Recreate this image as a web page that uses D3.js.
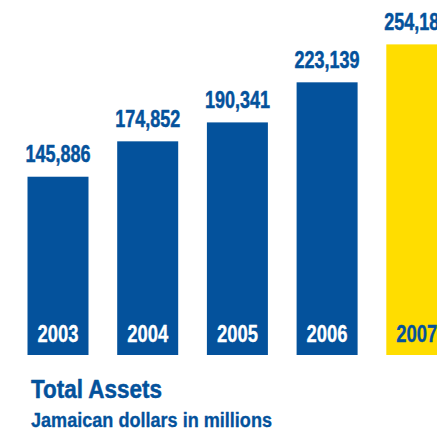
<!DOCTYPE html>
<html>
<head>
<meta charset="utf-8">
<script src="https://cdn.jsdelivr.net/npm/d3@7"></script>
<style>
  html, body { margin: 0; padding: 0; background: #ffffff; }
  svg { display: block; }
  text { font-family: "Liberation Sans", Arial, sans-serif; font-weight: bold; }
</style>
</head>
<body>
<svg id="chart" width="437" height="432"></svg>
<script>
// Total assets by year, Jamaican dollars in millions
const years = ["2003", "2004", "2005", "2006", "2007"];
const totalAssets = [145886, 174852, 190341, 223139, 254180];
const highlightYear = "2007";

const title = "Total Assets";
const subtitle = "Jamaican dollars in millions";

const blue = "#04529c";
const yellow = "#ffdd00";

const baseY = 355;

const svg = d3.select("#chart");

const x = d3.scaleBand()
  .domain(years)
  .range([27.5, 447.3])
  .paddingInner(0.32)
  .paddingOuter(0);

const y = d3.scaleLinear()
  .domain([0, 250000])
  .range([baseY, baseY - 305.5]);

const data = years.map((yr, i) => ({ year: yr, value: totalAssets[i] }));
const fmt = d3.format(",");

// condensed look: squeeze glyphs to a fixed width per character
const condensed = (sel, perChar) => sel
  .attr("textLength", function () { return this.textContent.length * perChar; })
  .attr("lengthAdjust", "spacingAndGlyphs");

// heavier strokes to match a condensed bold face
const heavy = (sel, w) => sel
  .attr("stroke", function () { return d3.select(this).attr("fill"); })
  .attr("stroke-width", w)
  .attr("stroke-linejoin", "round");

const g = svg.append("g");

g.selectAll("rect.bar")
  .data(data)
  .join("rect")
  .attr("class", "bar")
  .attr("x", d => x(d.year))
  .attr("y", d => y(d.value))
  .attr("width", x.bandwidth())
  .attr("height", d => baseY - y(d.value))
  .attr("fill", d => d.year === highlightYear ? yellow : blue);

// value labels above each bar
g.selectAll("text.value")
  .data(data)
  .join("text")
  .attr("class", "value")
  .attr("x", d => x(d.year) + x.bandwidth() / 2)
  .attr("y", d => y(d.value) - 14.5)
  .attr("text-anchor", "middle")
  .attr("font-size", 23)
  .attr("fill", blue)
  .text(d => fmt(d.value))
  .call(condensed, 65 / 7)
  .call(heavy, 0.5);

// year labels inside the base of each bar
g.selectAll("text.year")
  .data(data)
  .join("text")
  .attr("class", "year")
  .attr("x", d => x(d.year) + x.bandwidth() / 2)
  .attr("y", 342)
  .attr("text-anchor", "middle")
  .attr("font-size", 23)
  .attr("fill", d => d.year === highlightYear ? blue : "#ffffff")
  .text(d => d.year)
  .call(condensed, 41 / 4)
  .call(heavy, 0.3);

svg.append("text")
  .attr("x", 31)
  .attr("y", 398)
  .attr("font-size", 26)
  .attr("fill", blue)
  .text(title)
  .attr("textLength", 131)
  .attr("lengthAdjust", "spacingAndGlyphs")
  .call(heavy, 0.5);

svg.append("text")
  .attr("x", 31)
  .attr("y", 426.5)
  .attr("font-size", 20)
  .attr("fill", blue)
  .text(subtitle)
  .attr("textLength", 241)
  .attr("lengthAdjust", "spacingAndGlyphs")
  .call(heavy, 0.3);
</script>
</body>
</html>
